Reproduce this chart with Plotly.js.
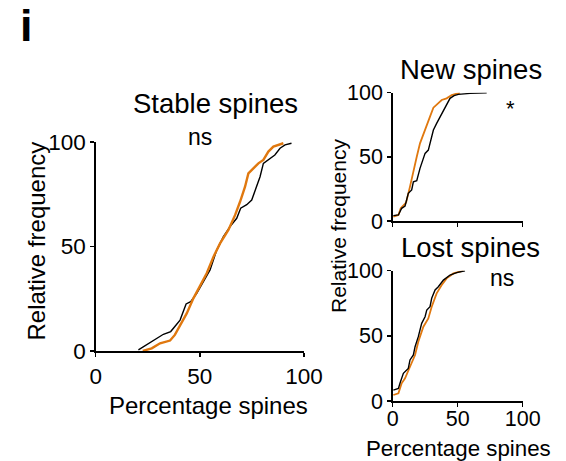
<!DOCTYPE html>
<html>
<head>
<meta charset="utf-8">
<script src="https://cdn.plot.ly/plotly-3.0.1.min.js"></script>
<style>html,body{margin:0;padding:0;background:#fff;}#chart{width:566px;height:461px;}</style>
</head>
<body>
<div id="chart"></div>
<script>
// ---- Data ----
// Stable spines
var stableCtrlX = [20.5,22.9,25.3,29.3,32.5,36,38,40.5,43.4,45.6,48.5,51.7,54.9,58,61.3,64.5,67.7,69.6,72.5,74.9,77.3,78.9,80.5,82.9,86,88.5,90.9,94];
var stableCtrlY = [0.5,2,3.7,6,8,9.3,11.6,14.8,22.5,23.6,27.6,33,38.8,48,54.7,59.5,63.5,68.3,70,72.2,78.6,83.4,89.8,91.4,93.8,97,98.6,99.4];
var stableTrtX = [22.6,26.9,30.9,35.7,38,40.5,43.7,46.9,50.1,53.3,56.5,59.7,63.7,66.9,69.3,71.7,73.3,75.7,78.1,80.5,82.9,85.3,90.1];
var stableTrtY = [0,1.3,3.7,5,7.7,12.4,18,25.2,31.6,37.2,45,51.5,57.9,65,71.4,78.6,85,87.4,89.8,91.4,95.4,97.8,99.4];
// New spines
var newCtrlX = [0.5,4.4,6.9,9.5,12,14.6,15.9,18.5,21,24.9,27.4,31.3,33.8,36.4,39,41.5,44.1,47.2,50.5,59.5,72.3];
var newCtrlY = [4.2,4.7,9.9,11.7,21.6,24.2,30.6,31.4,41,52.7,55.3,70.9,76.1,81.3,86.5,90.4,95.6,97.7,98.7,99.5,100];
var newTrtX = [0.5,4.4,6.2,10.3,13.3,15.4,18.5,21,23.6,26.2,28.7,31.3,35.1,37.7,41.5,45.4,51.8];
var newTrtY = [3.4,4.7,9.9,14.3,26.8,37.1,50.1,60.5,67,73.5,81.3,88.3,91.7,94.3,95.6,98.2,100];
// Lost spines
var lostCtrlX = [0.5,4.4,5.6,8.2,12,13.3,15.9,17.2,19.7,22.3,24.9,26.2,28.7,30,32.6,35.1,39,44.1,49.2,55.6];
var lostCtrlY = [8.4,9.7,13.6,21.2,25,31.5,35.3,41.7,49.4,59.6,64.7,69.8,72.4,78.8,85.2,87.7,92.8,96.7,98.5,100];
var lostTrtX = [0.5,4.4,6.9,9.5,13.3,17.2,19.7,23.6,27.4,30,33.8,37.7,41.5,46.7,54.4];
var lostTrtY = [4.6,5.9,13.6,17.4,26.3,35.3,45.5,57,63.4,72.4,82.6,89,94.1,97.9,100];

var tickVals = [0, 50, 100];
var tickText = ['0', '50', '100'];

// ---- Styles ----
var FONT = 'Liberation Sans, Arial, Helvetica, sans-serif';
var BLACK = '#000000';
var ORANGE = '#e0780f';
var W = 566, H = 461;
function px(x){ return x / W; }
function py(y){ return 1 - y / H; }

var traces = [
  {x: stableCtrlX, y: stableCtrlY, xaxis: 'x', yaxis: 'y', mode: 'lines', line: {color: BLACK, width: 1.4}, name: 'Control'},
  {x: stableTrtX, y: stableTrtY, xaxis: 'x', yaxis: 'y', mode: 'lines', line: {color: ORANGE, width: 2.4}, name: 'Treatment'},
  {x: newTrtX, y: newTrtY, xaxis: 'x2', yaxis: 'y2', mode: 'lines', line: {color: ORANGE, width: 1.8}, name: 'Treatment'},
  {x: newCtrlX, y: newCtrlY, xaxis: 'x2', yaxis: 'y2', mode: 'lines', line: {color: BLACK, width: 1.4}, name: 'Control'},
  {x: lostTrtX, y: lostTrtY, xaxis: 'x3', yaxis: 'y3', mode: 'lines', line: {color: ORANGE, width: 1.8}, name: 'Treatment'},
  {x: lostCtrlX, y: lostCtrlY, xaxis: 'x3', yaxis: 'y3', mode: 'lines', line: {color: BLACK, width: 1.4}, name: 'Control'}
];

function axisBase(fontSize){
  return {
    range: [0, 100], showgrid: false, zeroline: false, showline: true,
    linecolor: BLACK, linewidth: 1.5, ticks: 'outside', ticklen: 4,
    tickwidth: 1.5, tickcolor: BLACK, tickvals: tickVals, ticktext: tickText,
    tickfont: {family: FONT, size: fontSize, color: BLACK}, fixedrange: true
  };
}

var xa1 = axisBase(22.5); xa1.domain = [px(95.7), px(304)]; xa1.anchor = 'y';
xa1.ticklabelstandoff = 0;
var ya1 = axisBase(22.5); ya1.domain = [py(351), py(142)]; ya1.anchor = 'x';

var xa2 = axisBase(21.5); xa2.domain = [px(392.7), px(522.7)]; xa2.anchor = 'y2'; xa2.showticklabels = false;
var ya2 = axisBase(21.5); ya2.domain = [py(221), py(92.7)]; ya2.anchor = 'x2';

var xa3 = axisBase(21.5); xa3.domain = [px(392.7), px(522.7)]; xa3.anchor = 'y3';
xa3.ticklabelstandoff = -6;
var ya3 = axisBase(21.5); ya3.domain = [py(401), py(270.7)]; ya3.anchor = 'x3';

function ann(text, x, y, size, extra){
  var a = {text: text, x: px(x), y: py(y), xref: 'paper', yref: 'paper', showarrow: false,
    xanchor: 'center', yanchor: 'middle', font: {family: FONT, size: size, color: BLACK}};
  if (extra) for (var k in extra) a[k] = extra[k];
  return a;
}

var annotations = [
  ann('<b>i</b>', 26.5, 25, 45),
  ann('Stable spines', 215, 103, 27.5),
  ann('ns', 200, 137, 23),
  ann('New spines', 470.5, 69, 27.5),
  ann('*', 510, 108, 22),
  ann('Lost spines', 470, 247, 27.5),
  ann('ns', 501.7, 278, 23),
  // axis titles
  ann('Relative frequency', 36, 241.5, 24, {textangle: -90}),
  ann('Percentage spines', 208, 405.5, 24),
  ann('Relative frequency', 339, 226, 21, {textangle: -90}),
  ann('Percentage spines', 458.5, 448, 22.3)
];

var layout = {
  width: W, height: H,
  margin: {l: 0, r: 0, t: 0, b: 0},
  paper_bgcolor: '#ffffff', plot_bgcolor: '#ffffff',
  showlegend: false,
  font: {family: FONT, color: BLACK},
  xaxis: xa1, yaxis: ya1, xaxis2: xa2, yaxis2: ya2, xaxis3: xa3, yaxis3: ya3,
  annotations: annotations
};

Plotly.newPlot('chart', traces, layout, {staticPlot: true, displayModeBar: false});
</script>
</body>
</html>
